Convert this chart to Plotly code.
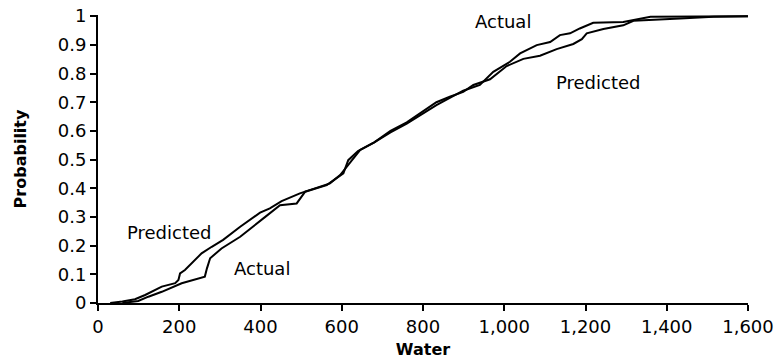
import plotly.graph_objects as go

# Predicted curve (Water, Probability)
pred_x = [30, 60, 91, 116, 157, 190, 198, 202, 214, 255, 280, 308, 350, 399, 423, 452,
          497, 571, 596, 620, 645, 680, 720, 760, 800, 833, 866, 899, 924, 965,
          1006, 1047, 1088, 1129, 1170, 1191, 1203, 1244, 1293, 1318, 1433, 1515, 1600]
pred_y = [0.0, 0.005, 0.013, 0.028, 0.057, 0.069, 0.08, 0.103, 0.115, 0.173, 0.196, 0.22, 0.266, 0.315, 0.33, 0.355,
          0.382, 0.417, 0.446, 0.487, 0.533, 0.56, 0.6, 0.63, 0.67, 0.70, 0.719, 0.736, 0.76, 0.78,
          0.826, 0.851, 0.862, 0.885, 0.903, 0.92, 0.94, 0.955, 0.968, 0.984, 0.992, 0.998, 1.0]

# Actual curve (Water, Probability)
act_x = [60, 99, 124, 157, 206, 263, 268, 276, 304, 350, 407, 448, 489, 510, 563, 604, 616,
         640, 680, 720, 760, 800, 833, 866, 899, 940, 973, 1014, 1039, 1080, 1113, 1137,
         1162, 1186, 1219, 1293, 1330, 1360, 1600]
act_y = [0.0, 0.007, 0.022, 0.039, 0.069, 0.092, 0.12, 0.156, 0.19, 0.231, 0.295, 0.341, 0.347, 0.388, 0.411, 0.452, 0.498,
         0.53, 0.56, 0.595, 0.625, 0.66, 0.69, 0.715, 0.74, 0.76, 0.806, 0.841, 0.87, 0.899, 0.91, 0.934,
         0.94, 0.957, 0.977, 0.98, 0.99, 0.998, 1.0]

y_ticks = [0, 0.1, 0.2, 0.3, 0.4, 0.5, 0.6, 0.7, 0.8, 0.9, 1]
y_ticktext = ["0", "0.1", "0.2", "0.3", "0.4", "0.5", "0.6", "0.7", "0.8", "0.9", "1"]
x_ticks = [0, 200, 400, 600, 800, 1000, 1200, 1400, 1600]
x_ticktext = ["0", "200", "400", "600", "800", "1,000", "1,200", "1,400", "1,600"]

# labels: (text, x, y)
labels = [("Actual", 997, 0.983), ("Predicted", 1231, 0.767),
          ("Predicted", 175, 0.247), ("Actual", 404, 0.122)]

FONT = "DejaVu Sans, sans-serif"

fig = go.Figure()
fig.add_trace(go.Scatter(x=pred_x, y=pred_y, mode="lines", name="Predicted",
                         line=dict(color="black", width=2)))
fig.add_trace(go.Scatter(x=act_x, y=act_y, mode="lines", name="Actual",
                         line=dict(color="black", width=2)))

for t, x, y in labels:
    fig.add_annotation(x=x, y=y, text=t, showarrow=False,
                       font=dict(family=FONT, size=18, color="black"))

fig.update_layout(
    width=774, height=363,
    margin=dict(l=98, r=26, t=15, b=60),
    paper_bgcolor="white", plot_bgcolor="white",
    showlegend=False,
    font=dict(family=FONT, color="black", size=18),
    xaxis=dict(range=[0, 1600], tickvals=x_ticks, ticktext=x_ticktext, automargin=False,
               showgrid=False, zeroline=False, showline=True, linecolor="black",
               linewidth=2, ticks="outside", tickcolor="black", tickwidth=2, ticklen=6,
               tickfont=dict(size=18),
               title=dict(text="<b>Water</b>", font=dict(size=16), standoff=8)),
    yaxis=dict(range=[0, 1.004], tickvals=y_ticks, ticktext=y_ticktext, automargin=False,
               showgrid=False, zeroline=False, showline=True, linecolor="black",
               linewidth=2, ticks="outside", tickcolor="black", tickwidth=2, ticklen=6,
               tickfont=dict(size=18),
               title=dict(text="<b>Probability</b>", font=dict(size=16), standoff=27)),
)

fig.write_html("out.html")
